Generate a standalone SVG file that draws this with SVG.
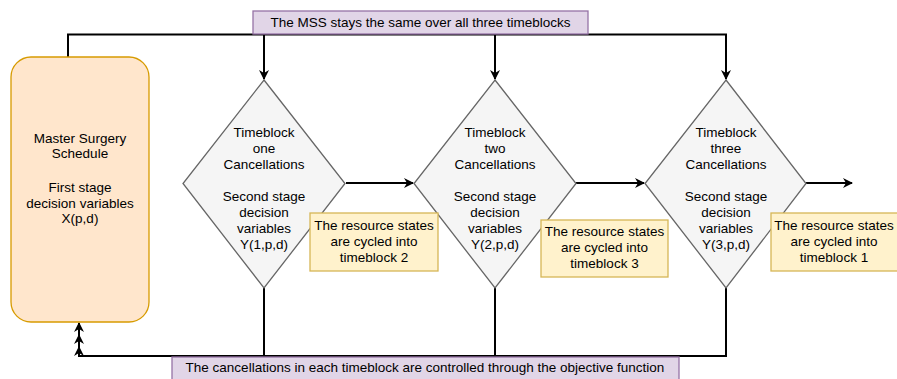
<svg xmlns="http://www.w3.org/2000/svg" width="897" height="379" viewBox="0 0 897 379">
<defs>
<marker id="ah" viewBox="0 0 10 10" refX="9" refY="5" markerWidth="10" markerHeight="10" markerUnits="userSpaceOnUse" orient="auto">
<path d="M0,0 L10,5 L0,10 L3,5 Z" fill="#000"/>
</marker>
<style>
text{font-family:"Liberation Sans",Arial,sans-serif;font-size:13.5px;fill:#000;text-anchor:middle}
.c{fill:none;stroke:#000;stroke-width:2}
.dia{fill:#f5f5f5;stroke:#666;stroke-width:1.3}
.note{fill:#fff2cc;stroke:#d6b656;stroke-width:1.3}
.lab{fill:#e1d5e7;stroke:#9673a6;stroke-width:1.3}
</style>
</defs>
<rect width="897" height="379" fill="#fff"/>
<g id="connectors">
<path class="c" d="M68,57 V34.5 H726 V79" marker-end="url(#ah)"/>
<path class="c" d="M264,34.5 V79" marker-end="url(#ah)"/>
<path class="c" d="M495,34.5 V79" marker-end="url(#ah)"/>
<path class="c" d="M346,183 H413" marker-end="url(#ah)"/>
<path class="c" d="M576,183 H644" marker-end="url(#ah)"/>
<path class="c" d="M806,183 H852" marker-end="url(#ah)"/>
<path class="c" d="M264,288 V356 H79 V323" marker-end="url(#ah)"/>
<path class="c" d="M495,288 V356 H79 V335" marker-end="url(#ah)"/>
<path class="c" d="M726,288 V356 H79 V347" marker-end="url(#ah)"/>
</g>
<g id="mss">
<rect x="11" y="57" width="138" height="265" rx="20" ry="20" fill="#ffe6cc" stroke="#d79b00" stroke-width="1.3"/>
<text x="80" y="143">Master Surgery</text>
<text x="80" y="158">Schedule</text>
<text x="80" y="192">First stage</text>
<text x="80" y="208">decision variables</text>
<text x="80" y="223">X(p,d)</text>
</g>
<g id="tb1">
<polygon class="dia" points="264,80 345,183.5 264,288 183,183.5"/>
<text x="264" y="137">Timeblock</text>
<text x="264" y="153">one</text>
<text x="264" y="169">Cancellations</text>
<text x="264" y="201">Second stage</text>
<text x="264" y="217">decision</text>
<text x="264" y="233">variables</text>
<text x="264" y="249">Y(1,p,d)</text>
</g>
<g id="tb2">
<polygon class="dia" points="495,80 576,183.5 495,288 414,183.5"/>
<text x="495" y="137">Timeblock</text>
<text x="495" y="153">two</text>
<text x="495" y="169">Cancellations</text>
<text x="495" y="201">Second stage</text>
<text x="495" y="217">decision</text>
<text x="495" y="233">variables</text>
<text x="495" y="249">Y(2,p,d)</text>
</g>
<g id="tb3">
<polygon class="dia" points="726,80 806,183.5 726,288 645,183.5"/>
<text x="726" y="137">Timeblock</text>
<text x="726" y="153">three</text>
<text x="726" y="169">Cancellations</text>
<text x="726" y="201">Second stage</text>
<text x="726" y="217">decision</text>
<text x="726" y="233">variables</text>
<text x="726" y="249">Y(3,p,d)</text>
</g>
<g id="note1">
<rect class="note" x="310" y="213" width="128" height="58"/>
<text x="374" y="230">The resource states</text>
<text x="374" y="246">are cycled into</text>
<text x="374" y="262">timeblock 2</text>
</g>
<g id="note2">
<rect class="note" x="541" y="220" width="127" height="57"/>
<text x="604.5" y="236">The resource states</text>
<text x="604.5" y="252">are cycled into</text>
<text x="604.5" y="268">timeblock 3</text>
</g>
<g id="note3">
<rect class="note" x="771" y="213" width="128" height="58"/>
<text x="834" y="230">The resource states</text>
<text x="834" y="246">are cycled into</text>
<text x="834" y="262">timeblock 1</text>
</g>
<g id="label-top">
<rect class="lab" x="253" y="11" width="335" height="23"/>
<text x="420.5" y="27">The MSS stays the same over all three timeblocks</text>
</g>
<g id="label-bottom">
<rect class="lab" x="172" y="357" width="507" height="26"/>
<text x="425" y="372">The cancellations in each timeblock are controlled through the objective function</text>
</g>
</svg>
